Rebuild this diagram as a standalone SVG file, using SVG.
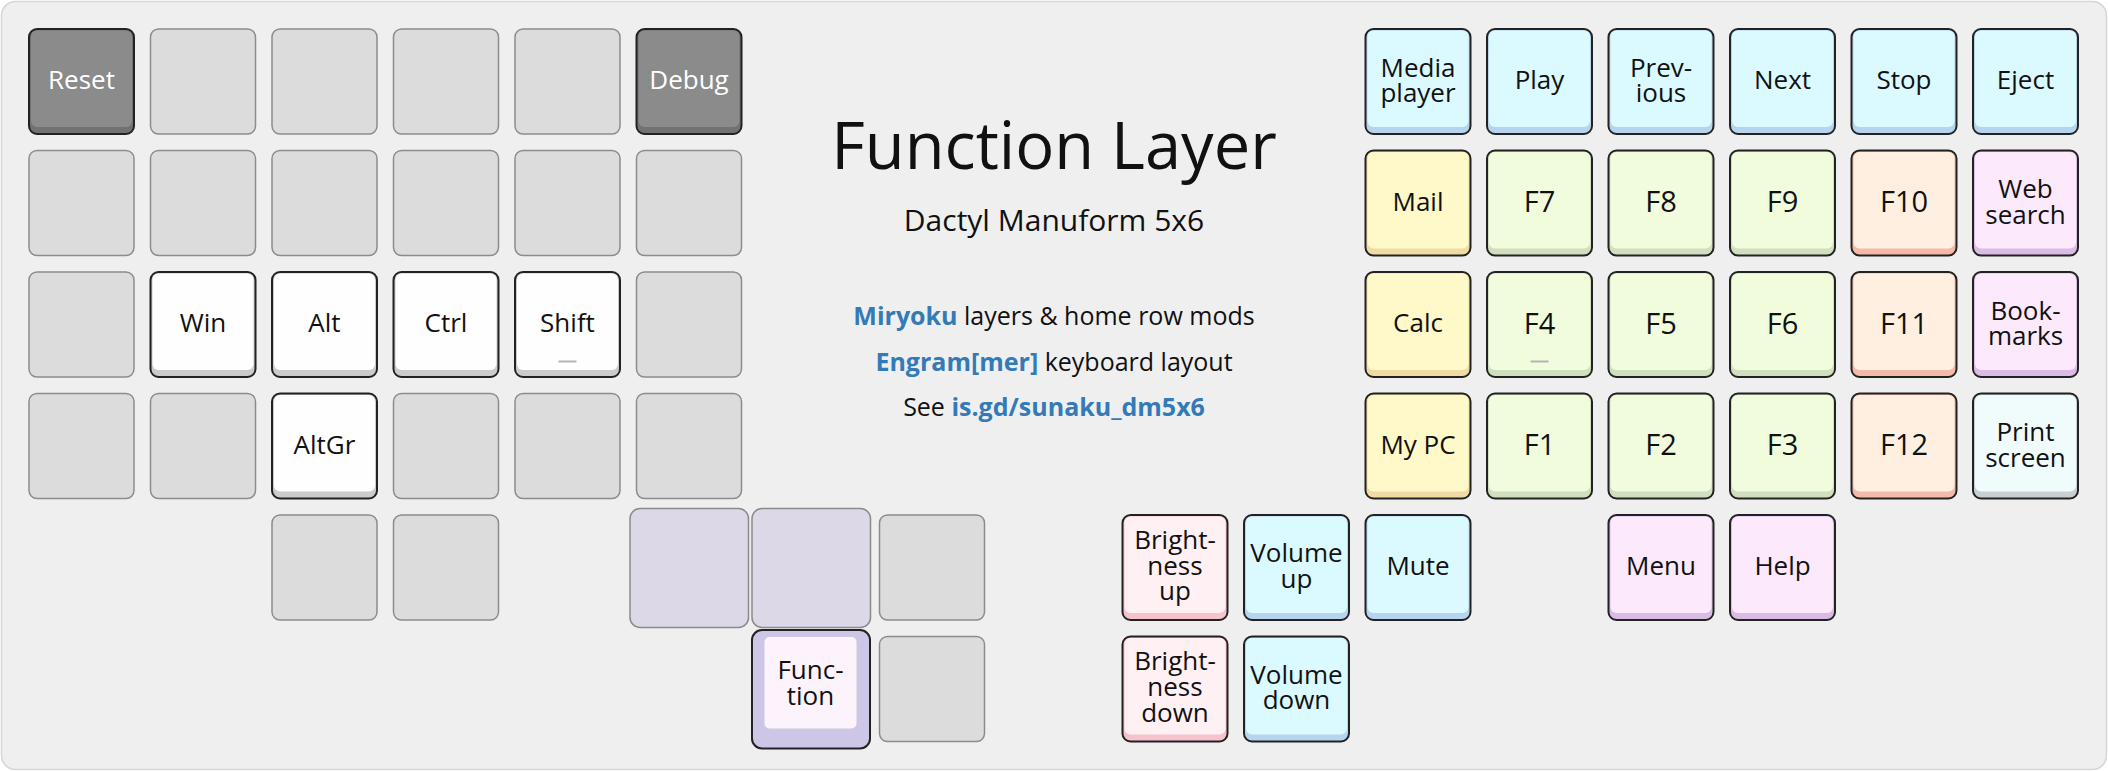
<svg xmlns="http://www.w3.org/2000/svg" width="2108" height="771" viewBox="0 0 2108 771">
<style>
.bg{fill:#efefef;stroke:#d6d6d6;stroke-width:1.5}
.e{fill:#dcdcdc;stroke:#8c8c8c;stroke-width:1.5}
.hold{fill:#ddd8e7;stroke:#8a8a8a;stroke-width:1.5}
.o{stroke:#222;stroke-width:2}
.dk{fill:#727272}.dki{fill:#8b8b8b}
.wh{fill:#cbcbcb}.whi{fill:#fefefe}
.bl{fill:#b6d4ee}.bli{fill:#dbfaff}
.ye{fill:#f0dca2}.yei{fill:#fff8c8}
.gr{fill:#d0e0bf}.gri{fill:#f1fcdd}
.or{fill:#f4b9a8}.ori{fill:#ffefe1}
.pk{fill:#dabbe5}.pki{fill:#fce9fc}
.ic{fill:#c8cfd4}.ici{fill:#f0fbfc}
.ro{fill:#f6c2cb}.roi{fill:#fff0f3}
.fo{fill:#cdc6e7}.foi{fill:#fdf3fd}
text{font-family:"Open Sans","Noto Sans","DejaVu Sans",sans-serif}
.t{font-size:26px;text-anchor:middle;fill:#111}
.f{font-size:29px}
.w{fill:#fff}
.bump{stroke:#b4b4b4;stroke-width:2}
.ttl{font-size:65px;text-anchor:middle;fill:#111}
.sub{font-size:30px;text-anchor:middle;fill:#111}
.info{font-size:25px;text-anchor:middle;fill:#111}
.lk{fill:#337ab7;font-weight:bold}
</style>
<defs>
<rect id="ko" width="105" height="105" rx="8"/>
<rect id="ki" x="2" y="1.5" width="101" height="96.5" rx="6"/>
<rect id="ke" width="105" height="105" rx="8"/>
</defs>
<rect class="bg" x="1.5" y="1.5" width="2105" height="768" rx="14"/>

<g id="title">
<text class="ttl" x="1054" y="169">Function Layer</text>
<text class="sub" x="1054" y="231">Dactyl Manuform 5x6</text>
<text class="info" x="1054" y="325"><tspan class="lk">Miryoku</tspan> layers &amp; home row mods</text>
<text class="info" x="1054" y="371"><tspan class="lk">Engram[mer]</tspan> keyboard layout</text>
<text class="info" x="1054" y="416">See <tspan class="lk">is.gd/sunaku_dm5x6</tspan></text>
</g>

<g id="connectors"></g>

<!-- Left hand row 0 -->
<g id="k-reset" transform="translate(29,29)"><use href="#ko" class="o dk"/><use href="#ki" class="dki"/><text class="t w" x="52.5" y="60">Reset</text></g>
<g id="k-l01" transform="translate(150.5,29)"><use href="#ke" class="e"/></g>
<g id="k-l02" transform="translate(272,29)"><use href="#ke" class="e"/></g>
<g id="k-l03" transform="translate(393.5,29)"><use href="#ke" class="e"/></g>
<g id="k-l04" transform="translate(515,29)"><use href="#ke" class="e"/></g>
<g id="k-debug" transform="translate(636.5,29)"><use href="#ko" class="o dk"/><use href="#ki" class="dki"/><text class="t w" x="52.5" y="60">Debug</text></g>
<!-- row 1 -->
<g id="k-l10" transform="translate(29,150.5)"><use href="#ke" class="e"/></g>
<g id="k-l11" transform="translate(150.5,150.5)"><use href="#ke" class="e"/></g>
<g id="k-l12" transform="translate(272,150.5)"><use href="#ke" class="e"/></g>
<g id="k-l13" transform="translate(393.5,150.5)"><use href="#ke" class="e"/></g>
<g id="k-l14" transform="translate(515,150.5)"><use href="#ke" class="e"/></g>
<g id="k-l15" transform="translate(636.5,150.5)"><use href="#ke" class="e"/></g>
<!-- row 2 -->
<g id="k-l20" transform="translate(29,272)"><use href="#ke" class="e"/></g>
<g id="k-win" transform="translate(150.5,272)"><use href="#ko" class="o wh"/><use href="#ki" class="whi"/><text class="t" x="52.5" y="60">Win</text></g>
<g id="k-alt" transform="translate(272,272)"><use href="#ko" class="o wh"/><use href="#ki" class="whi"/><text class="t" x="52.5" y="60">Alt</text></g>
<g id="k-ctrl" transform="translate(393.5,272)"><use href="#ko" class="o wh"/><use href="#ki" class="whi"/><text class="t" x="52.5" y="60">Ctrl</text></g>
<g id="k-shift" transform="translate(515,272)"><use href="#ko" class="o wh"/><use href="#ki" class="whi"/><text class="t" x="52.5" y="60">Shift</text><line class="bump" x1="43.5" y1="89.5" x2="61.5" y2="89.5"/></g>
<g id="k-l25" transform="translate(636.5,272)"><use href="#ke" class="e"/></g>
<!-- row 3 -->
<g id="k-l30" transform="translate(29,393.5)"><use href="#ke" class="e"/></g>
<g id="k-l31" transform="translate(150.5,393.5)"><use href="#ke" class="e"/></g>
<g id="k-altgr" transform="translate(272,393.5)"><use href="#ko" class="o wh"/><use href="#ki" class="whi"/><text class="t" x="52.5" y="60">AltGr</text></g>
<g id="k-l33" transform="translate(393.5,393.5)"><use href="#ke" class="e"/></g>
<g id="k-l34" transform="translate(515,393.5)"><use href="#ke" class="e"/></g>
<g id="k-l35" transform="translate(636.5,393.5)"><use href="#ke" class="e"/></g>
<!-- left thumbs -->
<g id="k-lt1" transform="translate(272,515)"><use href="#ke" class="e"/></g>
<g id="k-lt2" transform="translate(393.5,515)"><use href="#ke" class="e"/></g>
<g id="k-lt3"><rect class="hold" x="630" y="508.5" width="118.5" height="119" rx="10"/></g>
<g id="k-lt4"><rect class="hold" x="752" y="508.5" width="118.5" height="119" rx="10"/></g>
<g id="k-lt5" transform="translate(879.5,515)"><use href="#ke" class="e"/></g>
<g id="k-func"><rect class="o fo" x="752" y="630" width="118" height="118.5" rx="10"/><rect class="foi" x="764.5" y="637" width="92" height="91.5" rx="5"/><text class="t" x="810.5" y="679">Func-</text><text class="t" x="810.5" y="705">tion</text></g>
<g id="k-lt7" transform="translate(879.5,636.5)"><use href="#ke" class="e"/></g>

<!-- Right hand row 0 -->
<g id="k-media" transform="translate(1365.5,29)"><use href="#ko" class="o bl"/><use href="#ki" class="bli"/><text class="t" x="52.5" y="47.5">Media</text><text class="t" x="52.5" y="73">player</text></g>
<g id="k-play" transform="translate(1487,29)"><use href="#ko" class="o bl"/><use href="#ki" class="bli"/><text class="t" x="52.5" y="60">Play</text></g>
<g id="k-prev" transform="translate(1608.5,29)"><use href="#ko" class="o bl"/><use href="#ki" class="bli"/><text class="t" x="52.5" y="47.5">Prev-</text><text class="t" x="52.5" y="73">ious</text></g>
<g id="k-next" transform="translate(1730,29)"><use href="#ko" class="o bl"/><use href="#ki" class="bli"/><text class="t" x="52.5" y="60">Next</text></g>
<g id="k-stop" transform="translate(1851.5,29)"><use href="#ko" class="o bl"/><use href="#ki" class="bli"/><text class="t" x="52.5" y="60">Stop</text></g>
<g id="k-eject" transform="translate(1973,29)"><use href="#ko" class="o bl"/><use href="#ki" class="bli"/><text class="t" x="52.5" y="60">Eject</text></g>
<!-- row 1 -->
<g id="k-mail" transform="translate(1365.5,150.5)"><use href="#ko" class="o ye"/><use href="#ki" class="yei"/><text class="t" x="52.5" y="60">Mail</text></g>
<g id="k-f7" transform="translate(1487,150.5)"><use href="#ko" class="o gr"/><use href="#ki" class="gri"/><text class="t f" x="52.5" y="61.5">F7</text></g>
<g id="k-f8" transform="translate(1608.5,150.5)"><use href="#ko" class="o gr"/><use href="#ki" class="gri"/><text class="t f" x="52.5" y="61.5">F8</text></g>
<g id="k-f9" transform="translate(1730,150.5)"><use href="#ko" class="o gr"/><use href="#ki" class="gri"/><text class="t f" x="52.5" y="61.5">F9</text></g>
<g id="k-f10" transform="translate(1851.5,150.5)"><use href="#ko" class="o or"/><use href="#ki" class="ori"/><text class="t f" x="52.5" y="61.5">F10</text></g>
<g id="k-web" transform="translate(1973,150.5)"><use href="#ko" class="o pk"/><use href="#ki" class="pki"/><text class="t" x="52.5" y="47.5">Web</text><text class="t" x="52.5" y="73">search</text></g>
<!-- row 2 -->
<g id="k-calc" transform="translate(1365.5,272)"><use href="#ko" class="o ye"/><use href="#ki" class="yei"/><text class="t" x="52.5" y="60">Calc</text></g>
<g id="k-f4" transform="translate(1487,272)"><use href="#ko" class="o gr"/><use href="#ki" class="gri"/><text class="t f" x="52.5" y="61.5">F4</text><line class="bump" x1="43.5" y1="89.5" x2="61.5" y2="89.5"/></g>
<g id="k-f5" transform="translate(1608.5,272)"><use href="#ko" class="o gr"/><use href="#ki" class="gri"/><text class="t f" x="52.5" y="61.5">F5</text></g>
<g id="k-f6" transform="translate(1730,272)"><use href="#ko" class="o gr"/><use href="#ki" class="gri"/><text class="t f" x="52.5" y="61.5">F6</text></g>
<g id="k-f11" transform="translate(1851.5,272)"><use href="#ko" class="o or"/><use href="#ki" class="ori"/><text class="t f" x="52.5" y="61.5">F11</text></g>
<g id="k-book" transform="translate(1973,272)"><use href="#ko" class="o pk"/><use href="#ki" class="pki"/><text class="t" x="52.5" y="47.5">Book-</text><text class="t" x="52.5" y="73">marks</text></g>
<!-- row 3 -->
<g id="k-mypc" transform="translate(1365.5,393.5)"><use href="#ko" class="o ye"/><use href="#ki" class="yei"/><text class="t" x="52.5" y="60">My PC</text></g>
<g id="k-f1" transform="translate(1487,393.5)"><use href="#ko" class="o gr"/><use href="#ki" class="gri"/><text class="t f" x="52.5" y="61.5">F1</text></g>
<g id="k-f2" transform="translate(1608.5,393.5)"><use href="#ko" class="o gr"/><use href="#ki" class="gri"/><text class="t f" x="52.5" y="61.5">F2</text></g>
<g id="k-f3" transform="translate(1730,393.5)"><use href="#ko" class="o gr"/><use href="#ki" class="gri"/><text class="t f" x="52.5" y="61.5">F3</text></g>
<g id="k-f12" transform="translate(1851.5,393.5)"><use href="#ko" class="o or"/><use href="#ki" class="ori"/><text class="t f" x="52.5" y="61.5">F12</text></g>
<g id="k-prtsc" transform="translate(1973,393.5)"><use href="#ko" class="o ic"/><use href="#ki" class="ici"/><text class="t" x="52.5" y="47.5">Print</text><text class="t" x="52.5" y="73">screen</text></g>
<!-- right thumbs -->
<g id="k-brup" transform="translate(1122.5,515)"><use href="#ko" class="o ro"/><use href="#ki" class="roi"/><text class="t" x="52.5" y="33.5">Bright-</text><text class="t" x="52.5" y="59.5">ness</text><text class="t" x="52.5" y="85">up</text></g>
<g id="k-volup" transform="translate(1244,515)"><use href="#ko" class="o bl"/><use href="#ki" class="bli"/><text class="t" x="52.5" y="47">Volume</text><text class="t" x="52.5" y="72.5">up</text></g>
<g id="k-mute" transform="translate(1365.5,515)"><use href="#ko" class="o bl"/><use href="#ki" class="bli"/><text class="t" x="52.5" y="60">Mute</text></g>
<g id="k-menu" transform="translate(1608.5,515)"><use href="#ko" class="o pk"/><use href="#ki" class="pki"/><text class="t" x="52.5" y="60">Menu</text></g>
<g id="k-help" transform="translate(1730,515)"><use href="#ko" class="o pk"/><use href="#ki" class="pki"/><text class="t" x="52.5" y="60">Help</text></g>
<g id="k-brdn" transform="translate(1122.5,636.5)"><use href="#ko" class="o ro"/><use href="#ki" class="roi"/><text class="t" x="52.5" y="33.5">Bright-</text><text class="t" x="52.5" y="59.5">ness</text><text class="t" x="52.5" y="85">down</text></g>
<g id="k-voldn" transform="translate(1244,636.5)"><use href="#ko" class="o bl"/><use href="#ki" class="bli"/><text class="t" x="52.5" y="47">Volume</text><text class="t" x="52.5" y="72.5">down</text></g>
</svg>
